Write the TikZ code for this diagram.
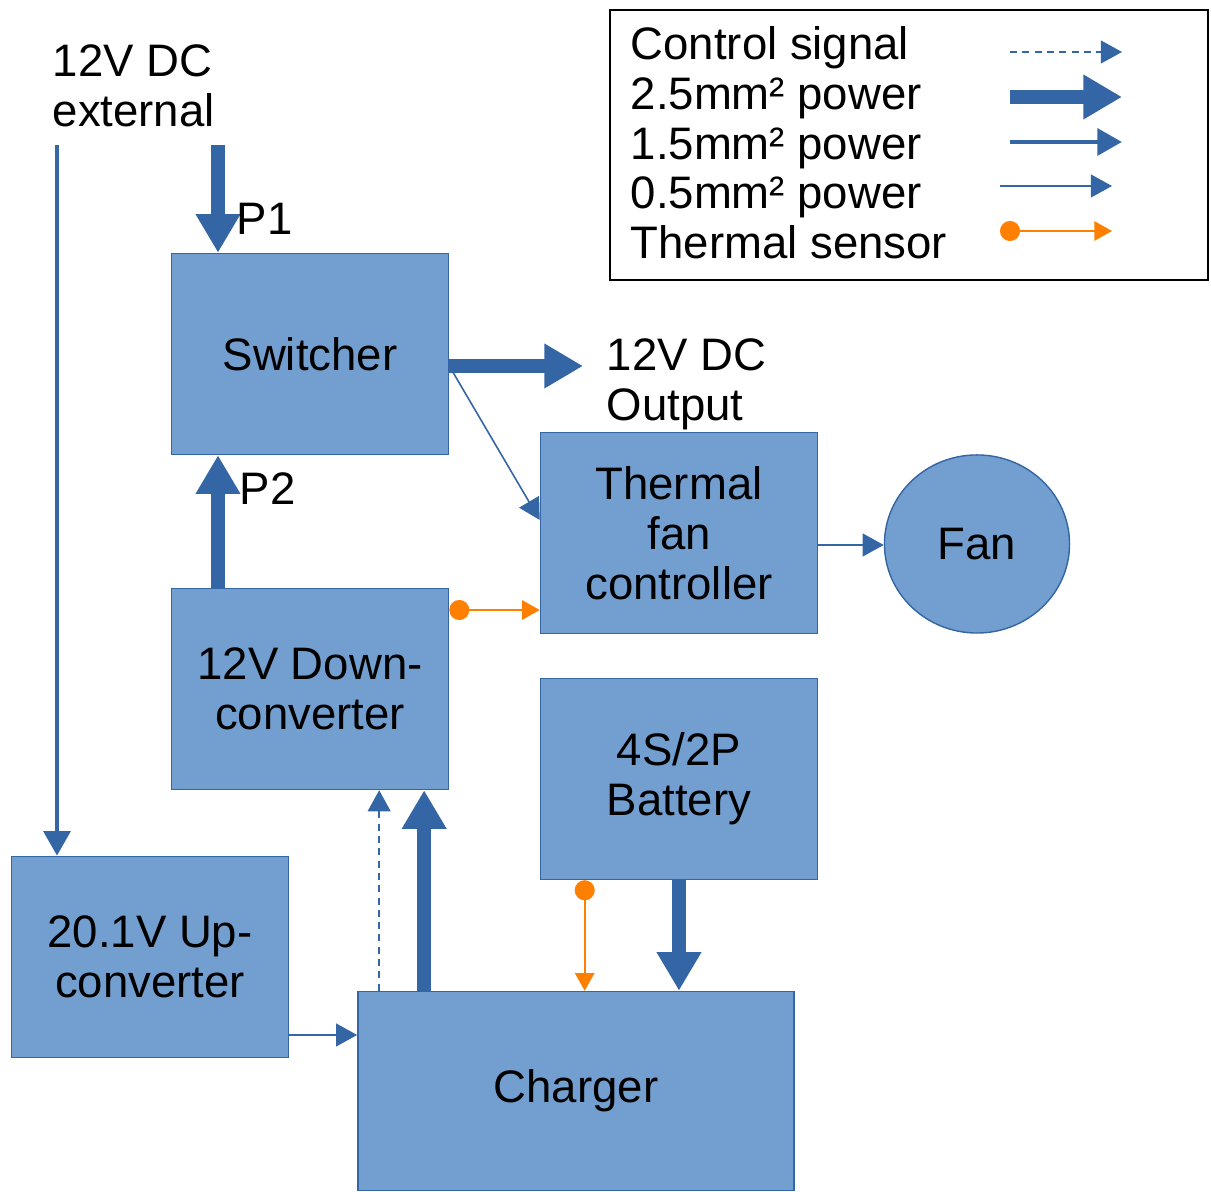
\documentclass[tikz,border=0pt]{standalone}
\usepackage{fontspec}
\setmainfont{Liberation Sans}
\usetikzlibrary{calc, arrows.meta, shapes.geometric}

\definecolor{boxfill}{HTML}{729FCF}
\definecolor{boxline}{HTML}{3465A4}
\definecolor{sensorcol}{HTML}{FF8000}

\begin{document}
\begin{tikzpicture}[x=0.01cm, y=-0.01cm,
  txt/.style={font=\fontsize{12.95pt}{14.2pt}\selectfont, inner sep=0pt},
  block/.style={txt, draw=boxline, line width=0.4pt, fill=boxfill, align=center,
    minimum width=2.77cm, minimum height=2.01cm},
  thickarr/.style={draw=boxline, line width=4pt, -{Triangle[length=11pt, width=12pt]}},
  medarr/.style={draw=boxline, line width=1.4pt, -{Triangle[length=7pt, width=7.5pt]}},
  thinarr/.style={draw=boxline, line width=0.45pt, -{Triangle[length=6pt, width=6.5pt]}},
  ctrlarr/.style={thinarr, dash pattern=on 2pt off 1.5pt},
  sensor/.style={draw=sensorcol, line width=0.45pt,
    {Circle[length=5.7pt, sensorcol]}-{Triangle[length=5pt, width=5.5pt, sensorcol]}}]
  \useasboundingbox (0,0) rectangle (1211,1192);

  % blocks
  \node[block] (sw) at (310,354) {Switcher};
  \node[block] (tfc) at (679,533) {Thermal\\fan\\controller};
  \node[txt, draw=boxline, line width=0.4pt, fill=boxfill, ellipse,
    minimum width=1.85cm, minimum height=1.78cm] (fan) at (977,544) {Fan};
  \node[block] (down) at (310,689) {12V Down-\\converter};
  \node[block] (bat) at (679,779) {4S/2P\\Battery};
  \node[block] (up) at (150,957) {20.1V Up-\\converter};
  \node[block, minimum width=4.36cm, minimum height=1.99cm] (chg) at (576,1091) {Charger};

  % free ends
  \coordinate (ext) at (57,145);
  \coordinate (p1) at (218,145);
  \coordinate (swout) at ($(sw.east)+(0,12)$);
  \coordinate (outtip) at (583,366);
  \coordinate (ctl) at ($(chg.north west)+(22,0)$);
  \coordinate (pwr) at ($(chg.north west)+(67,0)$);
  \coordinate (batsens) at ($(bat.south west)+(45,0)$);

  % connectors
  \draw[medarr] (ext) -- (up.north -| ext);
  \draw[thickarr] (p1) -- (sw.north -| p1);
  \draw[thickarr] (down.north -| p1) -- (sw.south -| p1);
  \draw[thickarr] (swout) -- (outtip);
  \draw[thinarr] (swout) -- ($(tfc.west)+(0,-13)$);
  \draw[sensor] ($(down.east)+(0,-79)$) -- ($(tfc.west)+(0,77)$);
  \draw[thinarr] ($(tfc.east)+(0,12)$) -- ($(fan.west)+(0,1)$);
  \draw[ctrlarr] (ctl) -- (down.south -| ctl);
  \draw[thickarr] (pwr) -- (down.south -| pwr);
  \draw[thickarr] (bat.south) -- (chg.north -| bat.south);
  \draw[sensor] (batsens) -- (chg.north -| batsens);
  \draw[thinarr] ($(up.east)+(0,78)$) -- ($(chg.west)+(0,-56)$);

  % labels
  \node[txt, align=left, anchor=north west] (extlbl) at (52,44) {12V DC\\external};
  \node[txt, anchor=base west] (p1lbl) at (236,235) {P1};
  \node[txt, anchor=base west] (p2lbl) at (239,505) {P2};
  \node[txt, align=left, anchor=north west] (outlbl) at (606,338) {12V DC\\Output};

  % legend
  \draw[line width=0.6pt] (610,10) rectangle (1208,280);
  \node[txt, anchor=base west] (lg1) at (630,60) {Control signal};
  \node[txt, anchor=base west] (lg2) at (630,110) {2.5mm² power};
  \node[txt, anchor=base west] (lg3) at (630,160) {1.5mm² power};
  \node[txt, anchor=base west] (lg4) at (630,209) {0.5mm² power};
  \node[txt, anchor=base west] (lg5) at (630,259) {Thermal sensor};
  \draw[ctrlarr] (1010,52) -- (1122,52);
  \draw[thickarr] (1010,97) -- (1122,97);
  \draw[medarr] (1010,142) -- (1122,142);
  \draw[thinarr] (1000,186) -- (1112,186);
  \draw[sensor] (1000,231) -- (1112,231);
\end{tikzpicture}
\end{document}
